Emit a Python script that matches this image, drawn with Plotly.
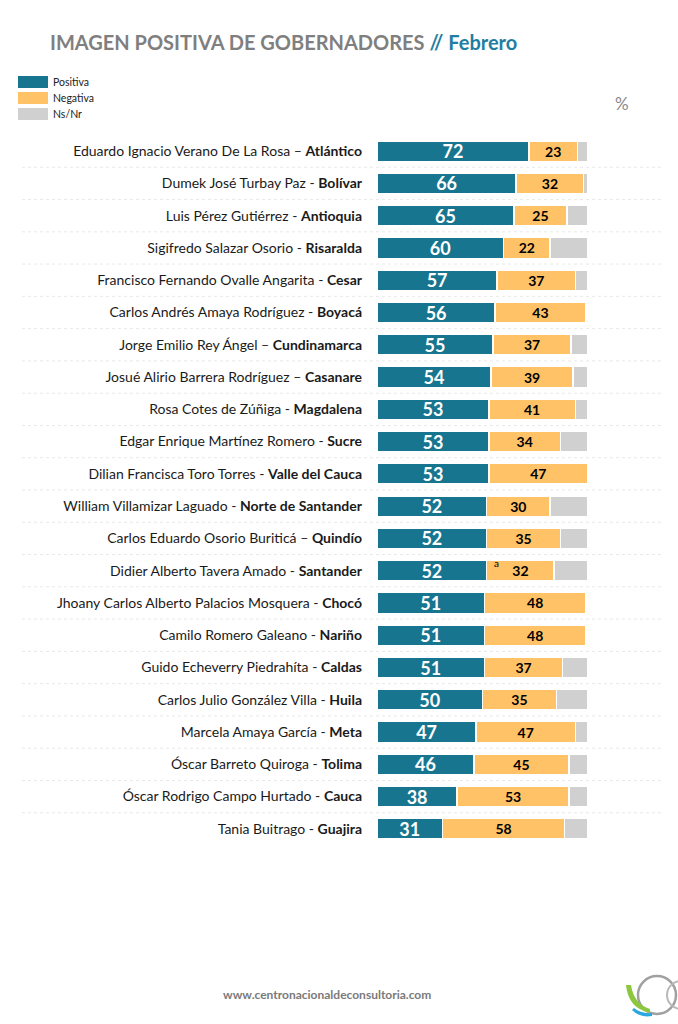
import plotly.graph_objects as go

names = [
    "Eduardo Ignacio Verano De La Rosa", "Dumek José Turbay Paz", "Luis Pérez Gutiérrez",
    "Sigifredo Salazar Osorio", "Francisco Fernando Ovalle Angarita", "Carlos Andrés Amaya Rodríguez",
    "Jorge Emilio Rey Ángel", "Josué Alirio Barrera Rodríguez", "Rosa Cotes de Zúñiga",
    "Edgar Enrique Martínez Romero", "Dilian Francisca Toro Torres", "William Villamizar Laguado",
    "Carlos Eduardo Osorio Buriticá", "Didier Alberto Tavera Amado",
    "Jhoany Carlos Alberto Palacios Mosquera", "Camilo Romero Galeano", "Guido Echeverry Piedrahíta",
    "Carlos Julio González Villa", "Marcela Amaya García", "Óscar Barreto Quiroga",
    "Óscar Rodrigo Campo Hurtado", "Tania Buitrago",
]
separators = ["–", "-", "-", "-", "-", "-", "–", "–", "-", "-", "-", "-", "–", "-", "-", "-", "-", "-", "-", "-", "-", "-"]
departments = [
    "Atlántico", "Bolívar", "Antioquia", "Risaralda", "Cesar", "Boyacá", "Cundinamarca", "Casanare",
    "Magdalena", "Sucre", "Valle del Cauca", "Norte de Santander", "Quindío", "Santander", "Chocó",
    "Nariño", "Caldas", "Huila", "Meta", "Tolima", "Cauca", "Guajira",
]
positiva = [72, 66, 65, 60, 57, 56, 55, 54, 53, 53, 53, 52, 52, 52, 51, 51, 51, 50, 47, 46, 38, 31]
negativa = [23, 32, 25, 22, 37, 43, 37, 39, 41, 34, 47, 30, 35, 32, 48, 48, 37, 35, 47, 45, 53, 58]
nsnr = [5, 2, 10, 18, 6, 1, 8, 7, 6, 13, 1, 18, 13, 16, 1, 1, 12, 15, 6, 9, 9, 11]

C_POS = "#17758f"
C_NEG = "#ffc266"
C_NS = "#d0d0d0"
FONT = "Lato"

labels = [f"{n} {s} <b>{d}</b>" for n, s, d in zip(names, separators, departments)]
ypos = list(range(len(labels)))

fig = go.Figure()
fig.add_bar(y=ypos, x=positiva, orientation="h", name="Positiva", marker=dict(color=C_POS, line=dict(color="white", width=1.5)),
            text=positiva, texttemplate="<b>%{x}</b>", textposition="inside", insidetextanchor="middle",
            textangle=0, constraintext="none",
            textfont=dict(color="white", size=18, family=FONT), hoverinfo="skip")
fig.add_bar(y=ypos, x=negativa, orientation="h", name="Negativa", marker=dict(color=C_NEG, line=dict(color="white", width=1.5)),
            text=negativa, texttemplate="<b>%{x}</b>", textposition="inside", insidetextanchor="middle",
            textangle=0, constraintext="none",
            textfont=dict(color="black", size=14, family=FONT), hoverinfo="skip")
fig.add_bar(y=ypos, x=nsnr, orientation="h", name="Ns/Nr", marker=dict(color=C_NS, line=dict(color="white", width=1.5)),
            textposition="none", hoverinfo="skip")

n = len(labels)
y_top_px, y_bot_px = 135, 845
x_left_px, x_right_px = 377, 589
W, H = 678, 1024

fig.update_layout(
    width=W, height=H, barmode="stack", bargap=0.36, showlegend=False,
    margin=dict(l=0, r=0, t=0, b=0), plot_bgcolor="white", paper_bgcolor="white",
    xaxis=dict(domain=[x_left_px / W, x_right_px / W], range=[0, 100.5], visible=False),
    yaxis=dict(domain=[1 - y_bot_px / H, 1 - y_top_px / H], range=[n - 0.5, -0.5],
               tickmode="array", tickvals=ypos, ticktext=labels, ticks="", showgrid=False,
               zeroline=False, showline=False, ticklabelstandoff=14,
               tickfont=dict(family=FONT, size=14, color="#1a1a1a")),
)

shapes = []
for i in range(n - 1):
    shapes.append(dict(type="line", xref="paper", yref="y", x0=22 / W, x1=662 / W, y0=i + 0.5, y1=i + 0.5,
                       line=dict(color="#e8e8e8", width=1, dash="dot"), layer="below"))
# legend swatches
leg = [("Positiva", C_POS, 82), ("Negativa", C_NEG, 98), ("Ns/Nr", C_NS, 114)]
annotations = []
for name, col, yc in leg:
    shapes.append(dict(type="rect", xref="paper", yref="paper", x0=18 / W, x1=48 / W,
                       y0=1 - (yc + 6) / H, y1=1 - (yc - 6) / H, fillcolor=col, line=dict(width=0)))
    annotations.append(dict(xref="paper", yref="paper", x=51 / W, y=1 - yc / H, text=name, showarrow=False,
                            xanchor="left", yanchor="middle", font=dict(family=FONT, size=10.5, color="#222")))

# logo
cx, cy, r = 657, 995, 19
shapes.append(dict(type="circle", xref="paper", yref="paper", x0=(cx - r) / W, x1=(cx + r) / W,
                   y0=1 - (cy + r) / H, y1=1 - (cy - r) / H, line=dict(color="#a0a0a0", width=2.5)))
cx2, r2 = 681, 14
shapes.append(dict(type="circle", xref="paper", yref="paper", x0=(cx2 - r2) / W, x1=(cx2 + r2) / W,
                   y0=1 - (cy + r2) / H, y1=1 - (cy - r2) / H, line=dict(color="#b8b8b8", width=2)))
shapes.append(dict(type="path", xref="paper", yref="paper",
                   path=f"M {626/W} {1-985/H} Q {628/W} {1-1008/H} {650/W} {1-1013/H} L {650/W} {1-1009/H} Q {634/W} {1-1004/H} {631/W} {1-985/H} Z",
                   fillcolor="#8dc63f", line=dict(width=0)))
shapes.append(dict(type="path", xref="paper", yref="paper",
                   path=f"M {632/W} {1-1010/H} Q {640/W} {1-1018/H} {652/W} {1-1016/H} L {652/W} {1-1013/H} Q {641/W} {1-1014/H} {634/W} {1-1008/H} Z",
                   fillcolor="#29a8e0", line=dict(width=0)))

annotations += [
    dict(xref="paper", yref="paper", x=48 / W, y=1 - 42 / H, xanchor="left", yanchor="middle", showarrow=False,
         text="<b><span style='color:#7f7f7f'>IMAGEN POSITIVA DE GOBERNADORES</span> <span style='color:#1f7ea1'>// Febrero</span></b>",
         font=dict(family=FONT, size=20)),
    dict(xref="paper", yref="paper", x=622 / W, y=1 - 103 / H, xanchor="center", yanchor="middle", showarrow=False,
         text="%", font=dict(family=FONT, size=17, color="#8a8a8a")),
    dict(xref="paper", yref="paper", x=327 / W, y=1 - 994 / H, xanchor="center", yanchor="middle", showarrow=False,
         text="<b>www.centronacionaldeconsultoria.com</b>", font=dict(family=FONT, size=12, color="#7a7a7a")),
    dict(xref="x", yref="y", x=positiva[13] + 4.5, y=12.75, xanchor="center", yanchor="middle", showarrow=False,
         text="a", font=dict(family=FONT, size=10, color="black")),
]

fig.update_layout(shapes=shapes, annotations=annotations)
fig.write_html("out.html", config={"displayModeBar": False},
               post_script="document.body.style.margin='0';document.body.style.overflow='hidden';")
